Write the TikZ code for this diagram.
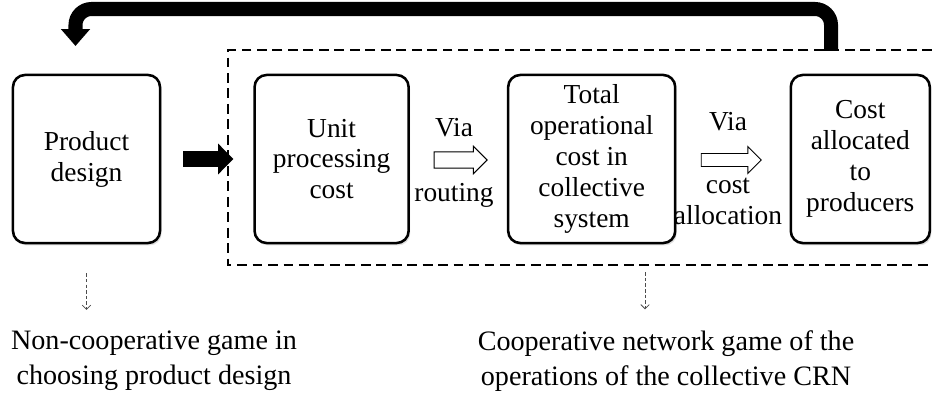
\documentclass[tikz,border=0pt]{standalone}
\usepackage{fontspec}
\setmainfont{Liberation Serif}
\usetikzlibrary{positioning,arrows.meta,shapes.arrows,shadows}

\tikzset{
  stage/.style={draw, line width=1.8pt, rounded corners=0.3cm, fill=white,
    minimum height=4.2cm, align=center, font=\fontsize{19.5}{22}\selectfont,
    drop shadow={opacity=0.25, shadow xshift=0.04cm, shadow yshift=-0.06cm}},
  via/.style={single arrow, draw, line width=0.7pt, fill=white,
    inner xsep=0pt, inner ysep=0.19cm, single arrow head extend=0.14cm},
  lbl/.style={font=\fontsize{19.5}{22}\selectfont, align=center, inner sep=0pt},
  game/.style={font=\fontsize{20}{25}\selectfont, align=center, inner sep=0pt},
  hint/.style={line width=0.6pt, black!70, dash pattern=on 2.5pt off 1.5pt,
    -{Straight Barb[length=3pt,width=6pt]}},
  region/.style={line width=2pt, dash pattern=on 7pt off 4pt},
  heavy/.style={line width=0.35cm, -{Triangle[length=0.42cm, width=0.7cm]}}
}

\begin{document}
\begin{tikzpicture}[x=0.025cm, y=-0.025cm]
\useasboundingbox (0,0) rectangle (932,394);

% dashed frame round the collective system
\coordinate (regTL) at (228,50);
\coordinate (regBL) at (228,265);
\draw[region] (932,50) -- (regTL) -- (regBL) -- (932,265);

% stages
\node[stage, minimum width=3.675cm] (design) at (86.5,159) {Product\\design};
\node[stage, minimum width=3.85cm, right=2.3cm of design] (unit) {Unit\\processing\\cost};
\node[stage, minimum width=4.175cm, right=2.425cm of unit] (total) {Total\\operational\\cost in\\collective\\system};
\node[stage, minimum width=3.475cm, right=2.825cm of total] (alloc) {Cost\\allocated\\to\\producers};

% design feeds the system
\draw[line width=0.4cm, -{Triangle[length=0.38cm, width=0.75cm]},
  shorten <=0.55cm, shorten >=0.5cm] (design) -- (unit);

% feedback from the allocation back to design
\coordinate (fbstart) at (831,51);
\coordinate (fbend) at (75.5,46);
\draw[heavy, rounded corners=0.4cm] (fbstart) -- (831,9) -- (75.5,9) -- (fbend);

% hollow arrows with their labels
\node[via, minimum height=1.325cm] (route) at (456.5,160) {};
\node[lbl] (routevia) at (454,128) {Via};
\node[lbl] (routing) at (454,195) {routing};

\node[via, minimum height=1.5cm, inner ysep=0.15cm, single arrow head extend=0.175cm] (share) at (728,160) {};
\node[lbl] (sharevia) at (728,122) {Via};
\node[lbl] (sharing) at (728,201) {cost\\allocation};

% the two games
\node[game] (noncoop) at (154,361) {Non-cooperative game in\\choosing product design};
\node[game] (coop) at (666,361) {Cooperative network game of the\\operations of the collective CRN};

\draw[hint] ([yshift=-0.725cm]design.south) -- ([yshift=0.52cm]design.south |- noncoop.north);
\draw[hint] ([xshift=-0.525cm, yshift=-0.18cm]coop.north |- regBL) -- ([xshift=-0.525cm, yshift=0.52cm]coop.north);
\end{tikzpicture}
\end{document}
